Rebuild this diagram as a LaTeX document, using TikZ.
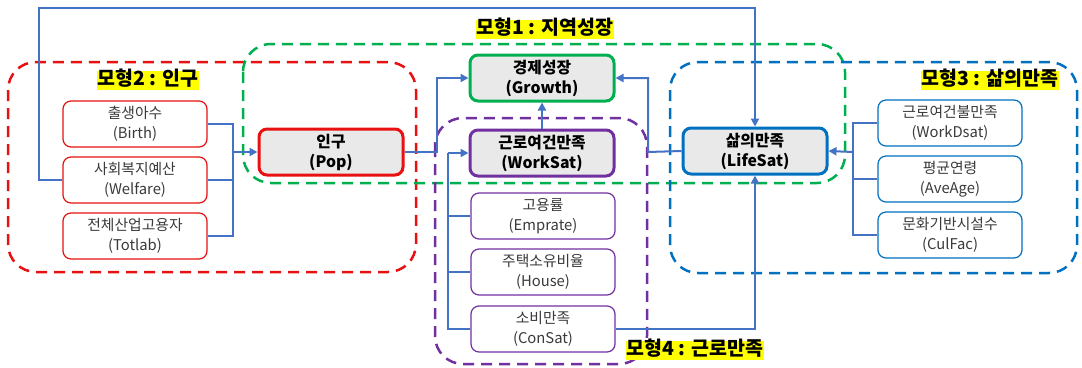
\documentclass[tikz,border=0pt]{standalone}
\usepackage{fontspec}
\setmainfont{Noto Sans CJK KR}
\usetikzlibrary{arrows.meta}
\definecolor{cred}{HTML}{E81010}
\definecolor{cgreen}{HTML}{00B050}
\definecolor{cpurple}{HTML}{7030A0}
\definecolor{cblue}{HTML}{0070C0}
\definecolor{lnk}{HTML}{4472C4}
\definecolor{gfill}{HTML}{E9E9E9}
\definecolor{txt}{HTML}{3A3A3A}
\definecolor{ylw}{HTML}{FFFF00}
\begin{document}
\begin{tikzpicture}[x=1pt,y=-1pt,
  box/.style={draw, rounded corners=8pt, minimum width=144pt, minimum height=46pt, line width=1.2pt, fill=white, align=center, font=\fontsize{14.8}{20}\selectfont, text=txt, inner sep=0pt},
  mainbox/.style={box, line width=3pt, fill=gfill, font=\bfseries\fontsize{15.8}{20}\selectfont, text=black},
  grp/.style={dash pattern=on 11pt off 7pt, line width=2.5pt, rounded corners=28pt},
  conn/.style={draw=lnk, line width=2pt},
  arr/.style={conn, -{Triangle[length=8pt,width=8pt]}},
  lbl/.style={fill=ylw, font=\bfseries\fontsize{19.5}{20}\selectfont, inner xsep=1pt, inner ysep=0pt, text height=15pt, text depth=4pt, text=black}
]
\useasboundingbox (0,0) rectangle (1082,367);
% group boxes
\draw[grp, draw=cred] (8,62) rectangle (416,272);
\draw[grp, draw=cgreen] (243,44) rectangle (845,183);
\draw[grp, draw=cpurple] (435,118) rectangle (647,364);
\draw[grp, draw=cblue] (670,62) rectangle (1077,273);
% nodes
\node[box, draw=cred] (birth) at (135,124) {출생아수\\(Birth)};
\node[box, draw=cred] (welfare) at (135,180) {사회복지예산\\(Welfare)};
\node[box, draw=cred] (totlab) at (135,236) {전체산업고용자\\(Totlab)};
\node[mainbox, draw=cred] (pop) at (331,152) {인구\\(Pop)};
\node[mainbox, draw=cgreen] (growth) at (542,78) {경제성장\\(Growth)};
\node[mainbox, draw=cpurple] (worksat) at (542,153) {근로여건만족\\(WorkSat)};
\node[box, draw=cpurple] (emp) at (543,216) {고용률\\(Emprate)};
\node[box, draw=cpurple] (house) at (543,272) {주택소유비율\\(House)};
\node[box, draw=cpurple] (consat) at (543,329) {소비만족\\(ConSat)};
\node[mainbox, draw=cblue] (life) at (755,151) {삶의만족\\(LifeSat)};
\node[box, draw=cblue] (wd) at (950,123) {근로여건불만족\\(WorkDsat)};
\node[box, draw=cblue] (ave) at (950,179) {평균연령\\(AveAge)};
\node[box, draw=cblue] (cul) at (950,235) {문화기반시설수\\(CulFac)};
% coordinates
\coordinate (popbus) at (233,152);
\coordinate (tl) at (39,8);
\coordinate (pg) at (437,152);
\coordinate (lg) at (648,152);
\coordinate (wb) at (448,153);
\coordinate (lb) at (853,152);
% connectors
\draw[conn] (birth.east) -| (popbus);
\draw[conn] (totlab.east) -| (popbus);
\draw[conn] (welfare.east) -- (welfare.east -| popbus);
\draw[arr] (popbus) -- (pop.west);
\draw[arr] (welfare.west) -| (tl) -| (life.north);
\draw[arr] (pop.east) -- (pg) |- (growth.west);
\draw[arr] (worksat.north) -- (growth.south);
\draw[arr] (life.west) -- (lg) |- (growth.east);
\draw[conn] (emp.west) -| (wb);
\draw[conn] (house.west) -| (wb);
\draw[conn] (consat.west) -| (wb);
\draw[arr] (wb) -- (worksat.west);
\draw[arr] (consat.east) -| (life.south);
\draw[conn] (wd.west) -| (lb);
\draw[conn] (cul.west) -| (lb);
\draw[conn] (ave.west) -- (ave.west -| lb);
\draw[arr] (lb) -- (life.east);
% labels
\node[lbl] (l1) at (545,29) {모형1 : 지역성장};
\node[lbl] (l2) at (148,80) {모형2 : 인구};
\node[lbl] (l3) at (990,80) {모형3 : 삶의만족};
\node[lbl] (l4) at (695,350) {모형4 : 근로만족};
\end{tikzpicture}
\end{document}
